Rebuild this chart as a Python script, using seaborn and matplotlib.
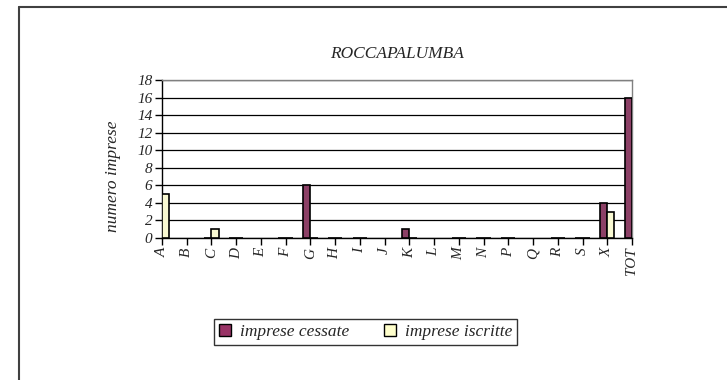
import numpy as np
import pandas as pd
import matplotlib.pyplot as plt
import seaborn as sns
from matplotlib.lines import Line2D
from matplotlib.patches import Patch

# dati: imprese per sezione ATECO
sezioni = ['A', 'B', 'C', 'D', 'E', 'F', 'G', 'H', 'I', 'J',
           'K', 'L', 'M', 'N', 'P', 'Q', 'R', 'S', 'X', 'TOT']
cessate = [np.nan, np.nan, 0, 0, np.nan, 0, 6, 0, 0, np.nan,
           1, np.nan, 0, 0, 0, np.nan, 0, 0, 4, 16]
iscritte = [5, np.nan, 1, 0, np.nan, 0, 0, 0, 0, np.nan,
            0, np.nan, 0, 0, 0, np.nan, 0, 0, 3, np.nan]
serie = ['imprese cessate', 'imprese iscritte']
colori = ['#993366', '#FFFFCC']

df = pd.DataFrame({
    'sezione': sezioni * 2,
    'tipo': [serie[0]] * len(sezioni) + [serie[1]] * len(sezioni),
    'valore': cessate + iscritte,
})

sns.set_style('white')
plt.rcParams['font.family'] = ['Liberation Serif', 'DejaVu Serif']
plt.rcParams['font.style'] = 'italic'

fig = plt.figure(figsize=(7.27, 3.8), dpi=100)
ax = fig.add_axes([0.2228, 0.3737, 0.6465, 0.4158])

sns.barplot(data=df, x='sezione', y='valore', hue='tipo', order=sezioni,
            hue_order=serie, palette=colori, width=0.58, errorbar=None,
            edgecolor='black', linewidth=1.2, legend=False, ax=ax, zorder=3)

ax.set_xlim(0, len(sezioni) - 1)
ax.set_ylim(0, 18)
ax.set_yticks(range(0, 19, 2))
ax.yaxis.grid(True, color='black', linewidth=0.9, zorder=0)
ax.set_axisbelow(True)

for s in ['left', 'bottom']:
    ax.spines[s].set_color('black')
    ax.spines[s].set_linewidth(1.0)
for s in ['top', 'right']:
    ax.spines[s].set_color('#808080')
    ax.spines[s].set_linewidth(1.0)

ax.tick_params(axis='both', direction='out', length=5, width=1, color='black',
               labelsize=11, pad=2, left=True, bottom=True)
ax.tick_params(axis='x', labelrotation=90)
ax.set_xlabel('')
ax.set_ylabel('numero imprese', fontsize=12.5)
ax.yaxis.set_label_coords(-0.088, 0.39)
ax.set_title('ROCCAPALUMBA', fontsize=12.5, pad=16)

handles = [Patch(facecolor=c, edgecolor='black', linewidth=1) for c in colori]
leg = fig.legend(handles, serie, loc='center', bbox_to_anchor=(0.503, 0.126),
                 ncol=2, frameon=True, fancybox=False, fontsize=12.5,
                 handlelength=0.7, handleheight=0.7, columnspacing=2.0,
                 borderpad=0.3, handletextpad=0.5)
leg.get_frame().set_edgecolor('black')
leg.get_frame().set_linewidth(1.0)
for t in leg.get_texts():
    t.set_fontstyle('italic')

# cornice esterna del grafico
fig.add_artist(Line2D([19 / 727, 19 / 727], [0, 1 - 7 / 380], color='#404040', linewidth=1.5))
fig.add_artist(Line2D([19 / 727, 1], [1 - 7 / 380, 1 - 7 / 380], color='#404040', linewidth=1.5))

fig.savefig('out.png', dpi=100)
